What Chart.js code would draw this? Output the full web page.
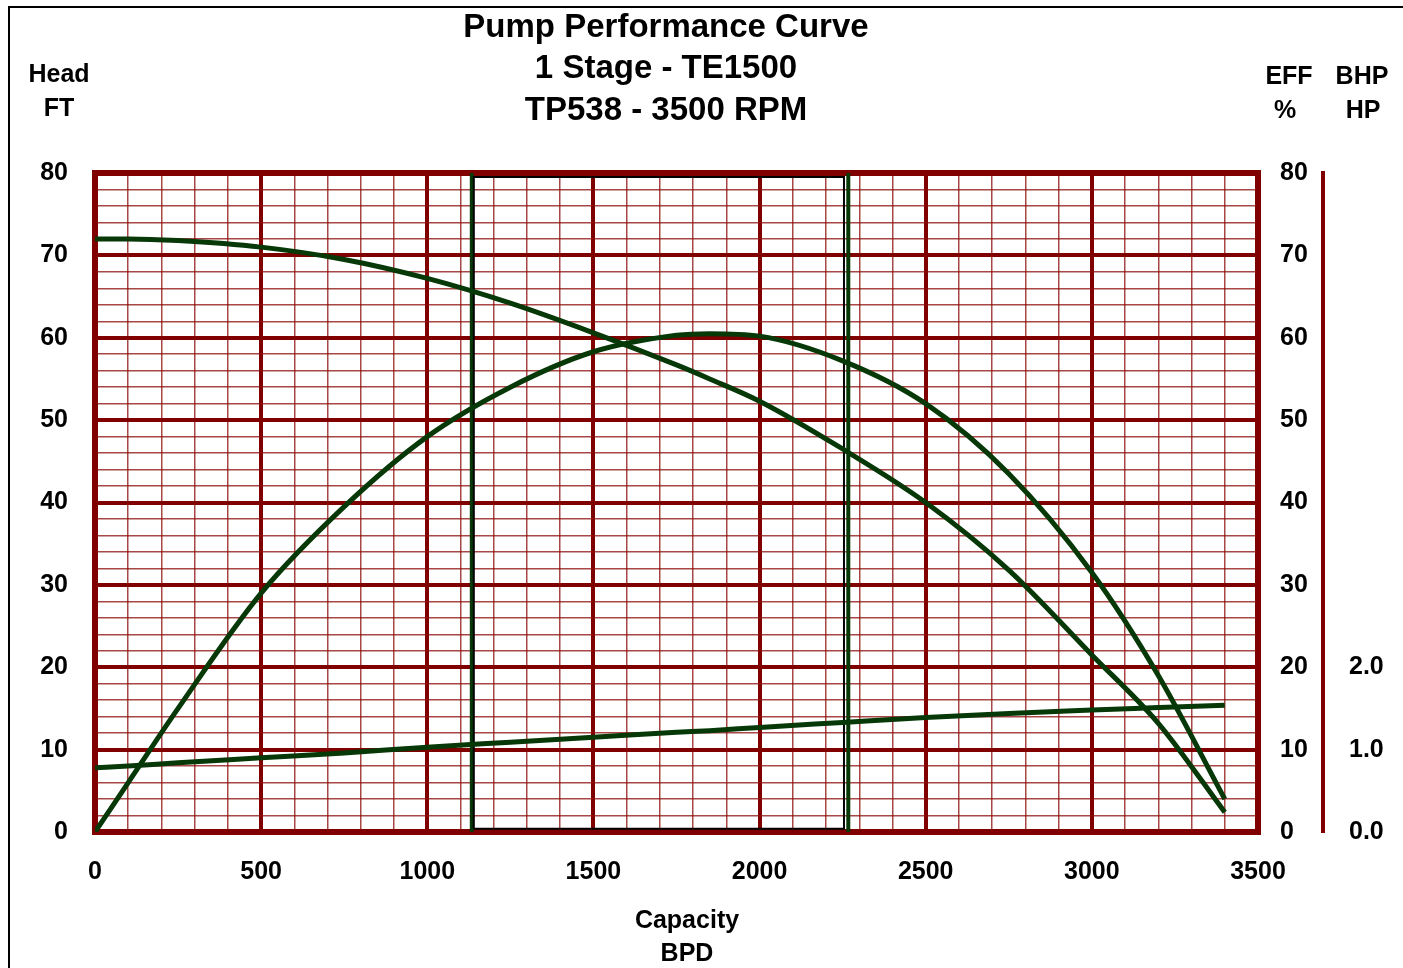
<!DOCTYPE html>
<html>
<head>
<meta charset="utf-8">
<script src="https://cdn.jsdelivr.net/npm/chart.js@4/dist/chart.umd.min.js"></script>
<style>
  html, body { margin: 0; padding: 0; background: #fff; }
  #wrap { position: relative; width: 1403px; height: 968px; }
  #frame { position: absolute; left: 8px; top: 6px; right: 0; bottom: 0; border-left: 2px solid #000; border-top: 2px solid #000; pointer-events: none; }
</style>
</head>
<body>
<div id="wrap">
  <canvas id="pump-chart" width="1403" height="968"></canvas>
  <div id="frame"></div>
</div>
<script>
// values
var capacity = [0, 100, 250, 500, 750, 1000, 1250, 1500, 1750, 1850, 2000, 2250, 2500, 2750, 3000, 3200, 3400];
var headFt   = [72, 72, 71.8, 71, 69.5, 67.2, 64.2, 60.6, 56.7, 55, 52.3, 46.5, 40, 31.8, 21.5, 13.2, 2.4];
var effPct   = [0, 6, 15, 29, 39.5, 48, 54, 58.3, 60.3, 60.5, 60.2, 57.2, 52, 43.5, 31.5, 19, 4];
var bhpHp    = [0.78, 0.80, 0.84, 0.90, 0.96, 1.03, 1.09, 1.15, 1.21, 1.23, 1.27, 1.33, 1.39, 1.44, 1.48, 1.51, 1.54];

// operating range markers (BPD)
var rangeLines = [1134, 2267];
var rangeBox = [1140, 2254];

var headTicks = [0, 10, 20, 30, 40, 50, 60, 70, 80];
var bhpTicks = [0, 1, 2];

var RED = '#800000';
var MINOR = 'rgba(140, 10, 10, 0.75)';
var GREEN = '#073807';
var FONT = '"Liberation Sans", Arial, sans-serif';

function pts(ys) {
  return capacity.map(function(x, i) { return { x: x, y: ys[i] }; });
}

var labelsPlugin = {
  id: 'labels',
  beforeDatasetsDraw: function(chart) {
    var a = chart.chartArea, ctx = chart.ctx;
    ctx.save();
    ctx.strokeStyle = RED;
    ctx.lineWidth = 6;
    ctx.strokeRect(a.left, a.top, a.right - a.left, a.bottom - a.top);
    ctx.restore();
  },
  afterDraw: function(chart) {
    var ctx = chart.ctx;
    ctx.save();
    ctx.fillStyle = '#000';
    ctx.textAlign = 'center';
    ctx.textBaseline = 'middle';
    ctx.font = 'bold 33px ' + FONT;
    ctx.fillText('Pump Performance Curve', 666, 28);
    ctx.fillText('1 Stage - TE1500', 666, 69);
    ctx.fillText('TP538 - 3500 RPM', 666, 111);
    ctx.font = 'bold 25px ' + FONT;
    ctx.fillText('Head', 59, 75);
    ctx.fillText('FT', 59, 109);
    ctx.fillText('EFF', 1289, 77);
    ctx.fillText('%', 1285, 111);
    ctx.fillText('BHP', 1362, 77);
    ctx.fillText('HP', 1363, 111);
    ctx.fillText('Capacity', 687, 921);
    ctx.fillText('BPD', 687, 954);
    ctx.restore();
  }
};

function gridWidth(step) {
  return function(c) { return c.tick && c.tick.value % step === 0 ? 4 : 1.5; };
}
function gridColor(step) {
  return function(c) { return c.tick && c.tick.value % step === 0 ? RED : MINOR; };
}

var tickFont = { family: FONT, size: 25, weight: 'bold' };

new Chart(document.getElementById('pump-chart'), {
  type: 'line',
  data: {
    datasets: [{
      label: 'Head',
      data: pts(headFt),
      yAxisID: 'y',
      borderColor: GREEN,
      borderWidth: 5,
      cubicInterpolationMode: 'monotone'
    }, {
      label: 'Efficiency',
      data: pts(effPct),
      yAxisID: 'eff',
      borderColor: GREEN,
      borderWidth: 5,
      cubicInterpolationMode: 'monotone'
    }, {
      label: 'BHP',
      data: pts(bhpHp),
      yAxisID: 'bhp',
      borderColor: GREEN,
      borderWidth: 5,
      cubicInterpolationMode: 'monotone'
    }, {
      label: 'Range box',
      data: [
        { x: rangeBox[0], y: 0.4 }, { x: rangeBox[0], y: 79.5 },
        { x: rangeBox[1], y: 79.5 }, { x: rangeBox[1], y: 0.4 },
        { x: rangeBox[0], y: 0.4 }
      ],
      yAxisID: 'y',
      borderColor: '#000',
      borderWidth: 2
    }, {
      label: 'Range min',
      data: [{ x: rangeLines[0], y: 0 }, { x: rangeLines[0], y: 80 }],
      yAxisID: 'y',
      borderColor: GREEN,
      borderWidth: 4
    }, {
      label: 'Range max',
      data: [{ x: rangeLines[1], y: 0 }, { x: rangeLines[1], y: 80 }],
      yAxisID: 'y',
      borderColor: GREEN,
      borderWidth: 4
    }]
  },
  options: {
    responsive: false,
    animation: false,
    layout: { padding: { top: 173, left: 0, right: 0, bottom: 0 } },
    elements: { point: { radius: 0 } },
    plugins: {
      legend: { display: false },
      tooltip: { enabled: false }
    },
    scales: {
      x: {
        type: 'linear',
        min: 0,
        max: 3500,
        afterFit: function(s) { s.height = 136; },
        border: { display: false },
        grid: { drawTicks: false, lineWidth: gridWidth(500), color: gridColor(500) },
        ticks: {
          stepSize: 100,
          autoSkip: false,
          maxRotation: 0,
          padding: 25,
          color: '#000',
          font: tickFont,
          callback: function(v) { return v % 500 === 0 ? String(v) : ''; }
        }
      },
      y: {
        position: 'left',
        min: 0,
        max: 80,
        afterFit: function(s) { s.width = 95; },
        border: { display: false },
        grid: { drawTicks: false, lineWidth: gridWidth(10), color: gridColor(10) },
        ticks: {
          stepSize: 2,
          autoSkip: false,
          padding: 27,
          color: '#000',
          font: tickFont,
          callback: function(v) { return headTicks.indexOf(v) >= 0 ? String(v) : ''; }
        }
      },
      eff: {
        position: 'right',
        min: 0,
        max: 80,
        afterFit: function(s) { s.width = 65; },
        border: { display: false },
        grid: { display: false },
        ticks: {
          stepSize: 2,
          autoSkip: false,
          padding: 14,
          color: '#000',
          font: tickFont,
          callback: function(v) { return headTicks.indexOf(v) >= 0 ? String(v) : ''; }
        }
      },
      bhp: {
        position: 'right',
        min: 0,
        max: 8,
        afterFit: function(s) { s.width = 80; },
        border: { display: true, color: RED, width: 4 },
        grid: { display: false, drawTicks: false },
        ticks: {
          stepSize: 1,
          autoSkip: false,
          padding: 26,
          color: '#000',
          font: tickFont,
          callback: function(v) { return bhpTicks.indexOf(v) >= 0 ? v.toFixed(1) : ''; }
        }
      }
    }
  },
  plugins: [labelsPlugin]
});
</script>
</body>
</html>
